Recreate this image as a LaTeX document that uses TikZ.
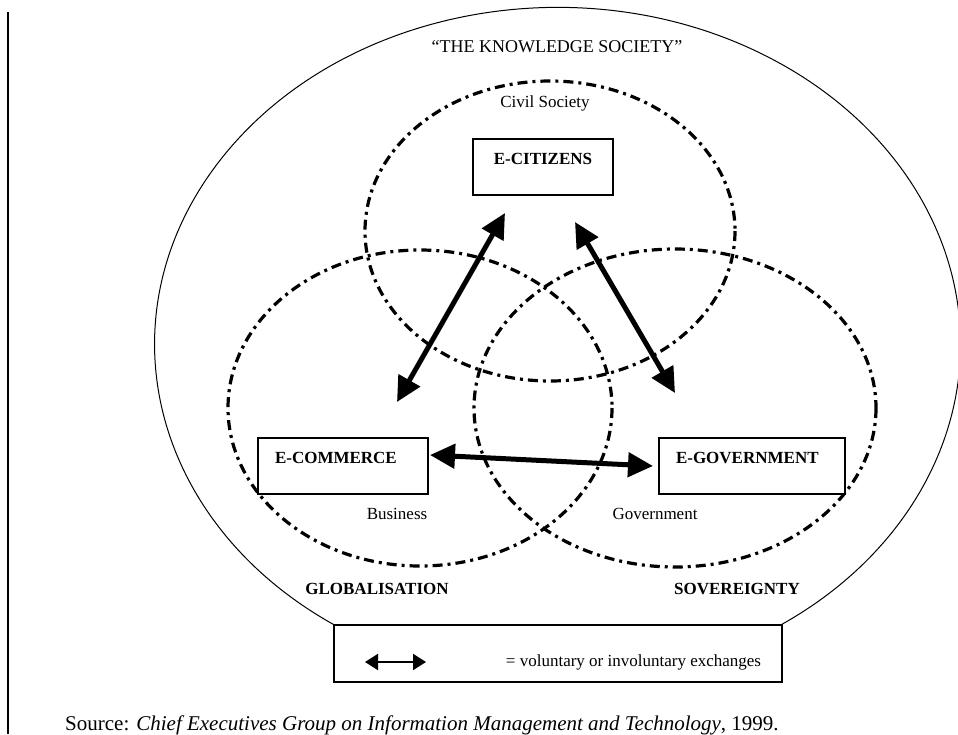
\documentclass[tikz,border=0pt]{standalone}
\usepackage{fontspec}
\setmainfont{Liberation Serif}
\usepackage{tikz}
\usetikzlibrary{arrows.meta}
\usetikzlibrary{positioning}

\tikzset{
  zone/.style={line width=3.2pt, dash pattern=on 10pt off 5pt on 3pt off 5pt},
  sector/.style={draw, fill=white, line width=1.2pt, minimum height=56pt, inner xsep=17pt,
    text depth=16pt, align=left, font=\fontsize{17}{19}\selectfont\bfseries},
  realm/.style={inner sep=0pt, font=\fontsize{17}{19}\selectfont\bfseries},
  txt/.style={inner sep=0pt, font=\fontsize{17}{19}\selectfont},
  xchg/.style={line width=5pt, {Triangle[length=25pt,width=24pt]}-{Triangle[length=25pt,width=24pt]}},
  keyarrow/.style={line width=2pt, {Triangle[length=13pt,width=16pt]}-{Triangle[length=13pt,width=16pt]}}
}

\begin{document}
\begin{tikzpicture}[x=1pt,y=-1pt]
    \useasboundingbox (0,0) rectangle (958,734);

    % rule at the left margin
    \draw[line width=1.2pt] (8,12) -- (8,734);

    % the three spheres
    \draw[zone] (550,231) ellipse [x radius=185, y radius=150];
    \draw[zone] (420,408) ellipse [x radius=192, y radius=158];
    \draw[zone] (675,408) ellipse [x radius=201, y radius=159];

    % legend, the knowledge society closes on its top corners
    \node[draw, line width=1.2pt, minimum width=448pt, minimum height=57pt, inner sep=0pt] (key) at (558,653.5) {};
    \draw[line width=1pt] (key.north west) arc[start angle=123.8, end angle=416.2, x radius=403, y radius=337];

    \node[inner sep=0pt, font=\fontsize{18}{20}\selectfont] (title) at (557,47) {``THE KNOWLEDGE SOCIETY''};
    \node[txt] (civil) at (545,103) {Civil Society};

    \node[sector, text width=106pt, align=center] (cit) at (543,167) {E-CITIZENS};
    \node[sector, text width=136pt] (com) at (343,466) {E-COMMERCE};
    \node[sector, text width=152pt] (gov) at (752,466) {E-GOVERNMENT};

    \node[txt] (bus) at (397,514) {Business};
    \node[txt] (govt) at (655,514) {Government};
    \node[realm] (glob) at (377,589) {GLOBALISATION};
    \node[realm] (sov) at (737,589) {SOVEREIGNTY};

    % exchanges
    \coordinate (com-up) at (397,402);
    \coordinate (cit-l) at (505,213);
    \coordinate (cit-r) at (575,222);
    \coordinate (gov-up) at (675,393);
    \coordinate (com-r) at (430,455);
    \coordinate (gov-l) at (653,466);
    \draw[xchg] (com-up) -- (cit-l);
    \draw[xchg] (cit-r) -- (gov-up);
    \draw[xchg] (com-r) -- (gov-l);

    \coordinate (key-a) at (365,662);
    \coordinate (key-b) at (426,662);
    \draw[keyarrow] (key-a) -- (key-b);
    \node[txt] (keytxt) at (633.5,662) {= voluntary or involuntary exchanges};

    \node[anchor=west, inner sep=0pt, font=\fontsize{21}{23}\selectfont] (src) at (65,725)
        {Source: \textit{Chief Executives Group on Information Management and Technology}, 1999.};
\end{tikzpicture}
\end{document}
